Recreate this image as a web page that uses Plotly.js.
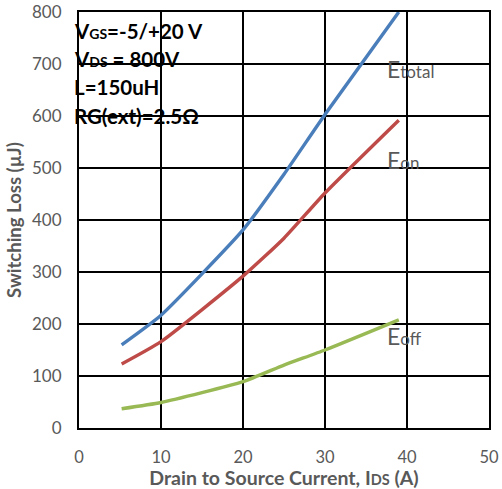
<!DOCTYPE html>
<html>
<head>
<meta charset="utf-8">
<script src="https://cdn.plot.ly/plotly-3.0.1.min.js"></script>
<style>
  html, body { margin: 0; padding: 0; background: #fff; }
  #chart { width: 502px; height: 489px; }
</style>
</head>
<body>
<div id="chart"></div>
<script>
// Drain-source current (A)
const currentA = [5.2, 10, 20, 25, 30, 39];
// Switching energy (µJ)
const eTotal = [160, 217, 381, 488, 603, 800];
const eOn    = [123, 166, 292, 365, 452, 592];
const eOff   = [37, 49, 89, 121, 150, 208];

const xTicks = [0, 10, 20, 30, 40, 50];
const yTicks = [0, 100, 200, 300, 400, 500, 600, 700, 800];

const FONT = 'Lato, "Open Sans", sans-serif';
const GREY = '#595959';

function series(y, color) {
  return {
    x: currentA, y: y, type: 'scatter', mode: 'lines',
    line: { color: color, width: 3.4, shape: 'spline', smoothing: 0.5 },
    hoverinfo: 'skip', showlegend: false
  };
}

const data = [
  series(eTotal, '#4a7ebb'),
  series(eOn, '#be4b48'),
  series(eOff, '#98b954')
];

const small = s => "<span style='font-size:14px'>" + s + "</span>";
const condFont = { family: FONT, size: 20.5, color: '#000' };
const condLines = [
  '<b>V' + small('<b>GS</b>') + '=-5/+20 V</b>',
  '<b>V' + small('<b>DS</b>') + ' = 800V</b>',
  '<b>L=150uH</b>',
  '<b>RG(ext)=2.5Ω</b>'
];
const condY = [0.955, 0.888, 0.82, 0.75];

const annotations = condLines.map((t, i) => ({
  xref: 'paper', yref: 'paper', x: -0.018, y: condY[i],
  xanchor: 'left', yanchor: 'middle', showarrow: false,
  text: t, font: condFont
}));

const curveLabels = [
  { t: 'E' + "<span style='font-size:17px'>total</span>", y: 691 },
  { t: 'E' + "<span style='font-size:17px'>on</span>", y: 515 },
  { t: 'E' + "<span style='font-size:17px'>off</span>", y: 176 }
];
curveLabels.forEach(l => annotations.push({
  xref: 'x', yref: 'y', x: 37.3, y: l.y, xanchor: 'left', yanchor: 'middle',
  showarrow: false, text: l.t, font: { family: FONT, size: 23, color: GREY }
}));

const layout = {
  width: 502, height: 489,
  margin: { l: 79, r: 13, t: 12, b: 61 },
  paper_bgcolor: '#fff', plot_bgcolor: '#fff',
  font: { family: FONT, color: GREY },
  xaxis: {
    range: [0, 50], tickvals: xTicks, ticktext: xTicks.map(String),
    showgrid: true, gridcolor: '#000', gridwidth: 2,
    showline: true, linecolor: '#000', linewidth: 2, mirror: true,
    zeroline: false, ticks: '', ticklabelstandoff: 13,
    tickfont: { family: FONT, size: 16.5, color: GREY },
    title: {
      text: '<b>Drain to Source Current, I' + "<span style='font-size:14.5px'><b>DS</b></span>" + ' (A)</b>',
      font: { family: FONT, size: 19.5, color: GREY }, standoff: 3
    }
  },
  yaxis: {
    range: [0, 800], tickvals: yTicks, ticktext: yTicks.map(String),
    showgrid: true, gridcolor: '#000', gridwidth: 2,
    showline: true, linecolor: '#000', linewidth: 2, mirror: true,
    zeroline: false, ticks: '', ticklabelstandoff: 12,
    tickfont: { family: FONT, size: 17, color: GREY },
    title: {
      text: '<b>Switching Loss (µJ)</b>',
      font: { family: FONT, size: 18.5, color: GREY }, standoff: 6
    }
  },
  annotations: annotations
};

Plotly.newPlot('chart', data, layout, { staticPlot: true, displayModeBar: false });
</script>
</body>
</html>
